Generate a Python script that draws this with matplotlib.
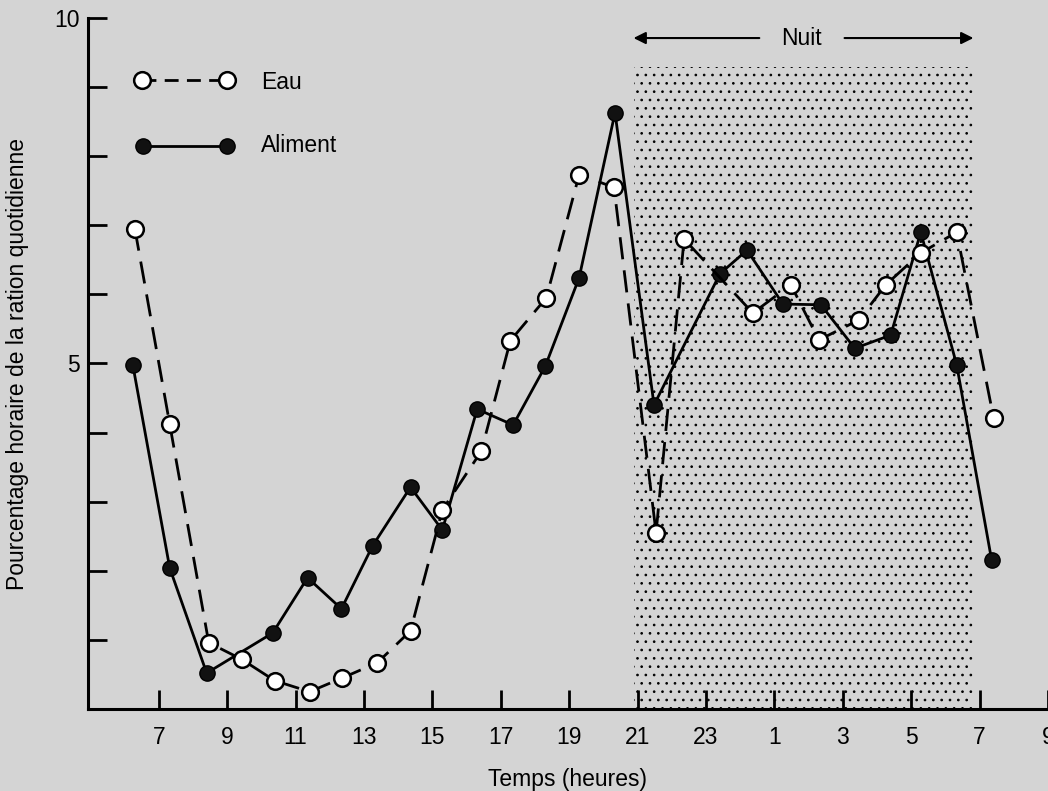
import matplotlib
matplotlib.use("Agg")
import matplotlib.pyplot as plt

plt.rcParams['font.family'] = ['Liberation Sans', 'DejaVu Sans']
plt.rcParams['hatch.linewidth'] = 0.7

heures_aliment = [6.24, 7.32, 8.40, 10.33, 11.35, 12.34, 13.25, 14.36, 15.29, 16.31,
                  17.36, 18.30, 19.29, 20.34, 21.48, 23.41, 24.20, 25.25, 26.36,
                  27.35, 28.40, 29.28, 30.33, 31.35]
aliment = [4.98, 2.04, 0.52, 1.10, 1.90, 1.45, 2.36, 3.21, 2.59, 4.34,
           4.11, 4.96, 6.24, 8.63, 4.40, 6.30, 6.64, 5.86, 5.85,
           5.22, 5.41, 6.90, 4.98, 2.16]

heures_eau = [6.30, 7.32, 8.46, 9.42, 10.39, 11.41, 12.37, 13.39, 14.36, 15.29,
              16.43, 17.28, 18.33, 19.29, 20.31, 21.54, 22.36, 24.37, 25.48,
              26.30, 27.47, 28.26, 29.28, 30.33, 31.41]
eau = [6.95, 4.12, 0.96, 0.72, 0.41, 0.25, 0.45, 0.67, 1.13, 2.88,
       3.73, 5.33, 5.95, 7.73, 7.55, 2.55, 6.80, 5.73, 6.14,
       5.34, 5.63, 6.14, 6.60, 6.90, 4.21]

tick_pos = [7, 9, 11, 13, 15, 17, 19, 21, 23, 25, 27, 29, 31, 33]
tick_labels = ['7', '9', '11', '13', '15', '17', '19', '21', '23', '1', '3', '5', '7', '9']

nuit_debut, nuit_fin, nuit_haut = 20.9, 30.8, 9.29

bg = '#d4d4d4'
fig = plt.figure(figsize=(10.48, 7.91), dpi=100, facecolor=bg)
ax = fig.add_axes([88 / 1048, 82 / 791, 960 / 1048, 691 / 791])
ax.set_facecolor(bg)

# zone de nuit en pointillé
ax.fill_between([nuit_debut, nuit_fin], 0, nuit_haut, facecolor='none',
                edgecolor='black', hatch='..', linewidth=0, zorder=1)

ax.plot(heures_aliment, aliment, '-o', color='black', lw=2.0,
        markersize=11, markerfacecolor='#111111', markeredgecolor='black',
        zorder=3)
ax.plot(heures_eau, eau, '--o', color='black', lw=2.0, dashes=(8, 4),
        markersize=12, markerfacecolor='white', markeredgecolor='black',
        markeredgewidth=1.8, zorder=4)

# légende faite à la main
ax.plot([6.5, 9.0], [9.1, 9.1], '--o', color='black', lw=2.0, dashes=(5, 3),
        markersize=12, markerfacecolor='white', markeredgewidth=1.8,
        clip_on=False)
ax.plot([6.55, 9.0], [8.15, 8.15], '-o', color='black', lw=2.0,
        markersize=11, markerfacecolor='#111111', clip_on=False)
ax.text(10.0, 9.07, 'Eau', fontsize=16.5, va='center', ha='left')
ax.text(10.0, 8.15, 'Aliment', fontsize=16.5, va='center', ha='left')

# flèches "Nuit"
ax.annotate('', xy=(nuit_debut - 0.1, 9.71), xytext=(24.64, 9.71),
            arrowprops=dict(arrowstyle='-|>', color='black', lw=1.5,
                            mutation_scale=18))
ax.annotate('', xy=(nuit_fin + 0.1, 9.71), xytext=(26.97, 9.71),
            arrowprops=dict(arrowstyle='-|>', color='black', lw=1.5,
                            mutation_scale=18))
ax.text(25.8, 9.71, 'Nuit', fontsize=16.5, ha='center', va='center')

ax.set_xlim(4.93, 32.96)
ax.set_ylim(0, 10)
ax.set_xticks(tick_pos)
ax.set_xticklabels(tick_labels)
ax.set_yticks(range(0, 11))
ax.set_yticklabels(['' if v not in (5, 10) else str(v) for v in range(0, 11)])
ax.tick_params(axis='both', direction='in', length=14, width=2, labelsize=16.5,
               pad=12)
ax.tick_params(axis='y', pad=6)

for side in ('top', 'right'):
    ax.spines[side].set_visible(False)
for side in ('left', 'bottom'):
    ax.spines[side].set_linewidth(2.2)

ax.set_xlabel('Temps (heures)', fontsize=16.5, labelpad=14)
ax.set_ylabel('Pourcentage horaire de la ration quotidienne', fontsize=16.5,
              labelpad=18)

fig.savefig('out.png', dpi=100, facecolor=bg)
